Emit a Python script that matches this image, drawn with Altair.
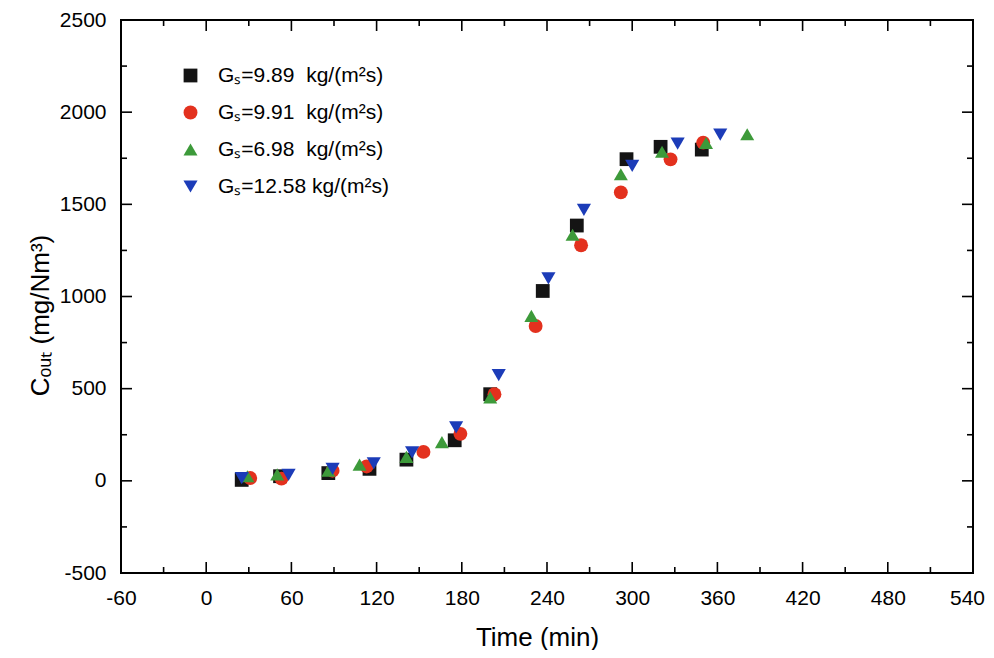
import altair as alt
import pandas as pd

# ---- data ----
series_names = [
    "G\u209b=9.89\u00a0 kg/(m\u00b2s)",
    "G\u209b=9.91\u00a0 kg/(m\u00b2s)",
    "G\u209b=6.98\u00a0 kg/(m\u00b2s)",
    "G\u209b=12.58 kg/(m\u00b2s)",
]
colors = ["#141414", "#e3311e", "#3d9a3a", "#1c3cb8"]
shapes = ["square", "circle", "triangle-up", "triangle-down"]
sizes = [190, 200, 270, 270]

t_989 = [25, 52, 86, 115, 141, 175, 200, 237, 261, 296, 320, 349]
c_989 = [5, 25, 42, 65, 115, 220, 470, 1030, 1385, 1745, 1812, 1797]

t_991 = [31, 53, 89, 113, 153, 179, 203, 232, 264, 292, 327, 350]
c_991 = [15, 12, 55, 78, 157, 255, 470, 840, 1278, 1565, 1744, 1835]

t_698 = [29, 50, 86, 108, 141, 166, 200, 229, 258, 292, 321, 352, 381]
c_698 = [25, 35, 55, 88, 130, 210, 453, 895, 1335, 1663, 1785, 1833, 1880]

t_1258 = [25, 58, 89, 118, 145, 176, 206, 241, 266, 300, 332, 362]
c_1258 = [15, 32, 65, 95, 155, 290, 573, 1098, 1470, 1708, 1830, 1878]

x_major = list(range(-60, 541, 60))
x_minor = list(range(-30, 541, 60))
y_major = list(range(-500, 2501, 500))
y_minor = list(range(-250, 2501, 500))

# ---- build table ----
rows = []
for name, ts, cs in zip(series_names, [t_989, t_991, t_698, t_1258],
                        [c_989, c_991, c_698, c_1258]):
    for t, c in zip(ts, cs):
        rows.append({"series": name, "time": t, "cout": c})
df = pd.DataFrame(rows)

W, H = 852, 553
FONT = "Liberation Sans"
LBL = "datum.value < 0 ? '-' + abs(datum.value) : '' + datum.value"

xscale = alt.Scale(domain=[-60, 540], nice=False, zero=False)
yscale = alt.Scale(domain=[-500, 2500], nice=False, zero=False)

x_axis = alt.Axis(values=x_major, ticks=False, domain=False,
                  grid=False, labelFlush=False, labelOverlap=False,
                  labelExpr=LBL,
                  labelOffset={"condition": {"test": "datum.value == 540", "value": -6},
                               "value": 0},
                  labelFont=FONT, labelFontSize=21, labelColor="black",
                  labelPadding=14, title="Time (min)", titleFont=FONT,
                  titleFontSize=26, titleFontWeight="normal",
                  titleColor="black", titlePadding=16, titleX=416)
y_axis = alt.Axis(values=y_major, ticks=False, domain=False,
                  grid=False, labelFlush=False, labelOverlap=False,
                  labelExpr=LBL,
                  labelFont=FONT, labelFontSize=21, labelColor="black",
                  labelPadding=15,
                  title="C\u2092\u1d64\u209c (mg/Nm\u00b3)", titleFont=FONT,
                  titleFontSize=26, titleFontWeight="normal",
                  titleColor="black", titlePadding=6, titleY=295)

legend = alt.Legend(
    title=None, orient="none", legendX=59, legendY=45, padding=0,
    labelFont=FONT, labelFontSize=21, labelColor="black", labelOffset=17,
    labelLimit=0, rowPadding=15, symbolSize=210, symbolStrokeWidth=0,
    symbolOpacity=1,
)

points = alt.Chart(df).mark_point(filled=True, opacity=1).encode(
    x=alt.X("time:Q", scale=xscale, axis=x_axis),
    y=alt.Y("cout:Q", scale=yscale, axis=y_axis),
    color=alt.Color("series:N", sort=series_names,
                    scale=alt.Scale(domain=series_names, range=colors), legend=legend),
    shape=alt.Shape("series:N", sort=series_names,
                    scale=alt.Scale(domain=series_names, range=shapes), legend=legend),
    size=alt.Size("series:N", sort=series_names,
                  scale=alt.Scale(domain=series_names, range=sizes), legend=None),
)

xmaj = pd.DataFrame({"v": x_major})
xmin = pd.DataFrame({"v": x_minor})
ymaj = pd.DataFrame({"v": y_major})
ymin = pd.DataFrame({"v": y_minor})

def xticks(data, y0, y1):
    return alt.Chart(data).mark_rule(color="black", strokeWidth=1.6).encode(
        x=alt.X("v:Q", scale=xscale, axis=x_axis),
        y=alt.value(y0), y2=alt.value(y1))

def yticks(data, x0, x1):
    return alt.Chart(data).mark_rule(color="black", strokeWidth=1.6).encode(
        y=alt.Y("v:Q", scale=yscale, axis=y_axis),
        x=alt.value(x0), x2=alt.value(x1))

layers = [
    xticks(xmaj, H, H - 11), xticks(xmin, H, H - 6),
    xticks(xmaj, 0, 11), xticks(xmin, 0, 6),
    yticks(ymaj, 0, 11), yticks(ymin, 0, 6),
    yticks(ymaj, W, W - 11), yticks(ymin, W, W - 6),
    points,
]

chart = alt.layer(*layers).properties(
    width=W, height=H,
    padding={"left": 113, "top": 12, "right": 13, "bottom": 77},
    autosize=alt.AutoSizeParams(type="none"),
    background="white",
).configure_view(stroke="black", strokeWidth=2)

chart.save("out.html", embed_options={"renderer": "svg", "actions": False})
